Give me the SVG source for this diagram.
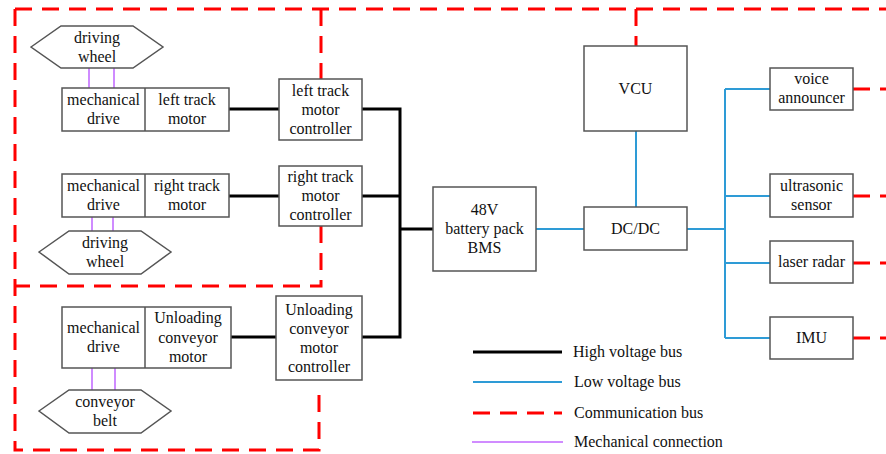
<svg xmlns="http://www.w3.org/2000/svg" width="886" height="454" viewBox="0 0 886 454">
<style>
.box{fill:#fff;stroke:#555;stroke-width:1.5}
.t{font-family:'Liberation Serif','Times New Roman','DejaVu Serif',serif;font-size:16px;fill:#111;text-anchor:middle}
.tl{font-family:'Liberation Serif','Times New Roman','DejaVu Serif',serif;font-size:16px;fill:#111}
.hv{stroke:#000;stroke-width:3;fill:none}
.lv{stroke:#2e9bd6;stroke-width:2;fill:none}
.cb{stroke:#ff0000;stroke-width:3;fill:none;stroke-dasharray:17 10}
.mc{stroke:#c066ff;stroke-width:1.5;fill:none}
</style>
<rect width="886" height="454" fill="#fff"/>
<g id="connectors">
  <path class="cb" d="M15 9 H886"/>
  <path class="cb" d="M15 9 V450 H319 V388"/>
  <path class="cb" d="M321 9 V79"/>
  <path class="cb" d="M321 226 V286 H15"/>
  <path class="cb" d="M636 9 V46"/>
  <path class="cb" d="M853 89 H886"/>
  <path class="cb" d="M853 196 H886"/>
  <path class="cb" d="M853 263 H886"/>
  <path class="cb" d="M853 338 H886"/>
  <path class="hv" d="M229 109 H279"/>
  <path class="hv" d="M229 196 H279"/>
  <path class="hv" d="M231 337 H276"/>
  <path class="hv" d="M362 109 H400 V337 H362"/>
  <path class="hv" d="M362 196 H400"/>
  <path class="hv" d="M400 229 H433"/>
  <path class="lv" d="M536 229 H584"/>
  <path class="lv" d="M636 131 V207"/>
  <path class="lv" d="M687 229 H725"/>
  <path class="lv" d="M725 89 V338"/>
  <path class="lv" d="M725 89 H770 M725 196 H770 M725 263 H770 M725 338 H770"/>
  <path class="mc" d="M89 68 V88 M114 68 V88"/>
  <path class="mc" d="M92 217 V231 M113 217 V231"/>
  <path class="mc" d="M92 368 V390 M115 368 V390"/>
</g>
<g id="wheel-left">
  <polygon class="box" points="31,47 61,26 133,26 163,47 133,68 61,68"/>
  <text class="t" x="97" y="43">driving</text>
  <text class="t" x="97" y="62">wheel</text>
</g>
<g id="left-drive">
  <rect class="box" x="62" y="88" width="167" height="43"/>
  <line class="box" x1="145" y1="88" x2="145" y2="131"/>
  <text class="t" x="103.5" y="105">mechanical</text>
  <text class="t" x="103.5" y="124">drive</text>
  <text class="t" x="187" y="105">left track</text>
  <text class="t" x="187" y="124">motor</text>
</g>
<g id="left-controller">
  <rect class="box" x="279" y="79" width="83" height="61"/>
  <text class="t" x="320.5" y="96">left track</text>
  <text class="t" x="320.5" y="115">motor</text>
  <text class="t" x="320.5" y="134">controller</text>
</g>
<g id="right-drive">
  <rect class="box" x="62" y="174" width="167" height="43"/>
  <line class="box" x1="145" y1="174" x2="145" y2="217"/>
  <text class="t" x="103.5" y="191">mechanical</text>
  <text class="t" x="103.5" y="210">drive</text>
  <text class="t" x="187" y="191">right track</text>
  <text class="t" x="187" y="210">motor</text>
</g>
<g id="wheel-right">
  <polygon class="box" points="39,252 69,231 141,231 171,252 141,274 69,274"/>
  <text class="t" x="105" y="248">driving</text>
  <text class="t" x="105" y="267">wheel</text>
</g>
<g id="right-controller">
  <rect class="box" x="279" y="166" width="83" height="60"/>
  <text class="t" x="320.5" y="182">right track</text>
  <text class="t" x="320.5" y="201">motor</text>
  <text class="t" x="320.5" y="220">controller</text>
</g>
<g id="conveyor-drive">
  <rect class="box" x="62" y="307" width="169" height="61"/>
  <line class="box" x1="145" y1="307" x2="145" y2="368"/>
  <text class="t" x="103.5" y="333">mechanical</text>
  <text class="t" x="103.5" y="352">drive</text>
  <text class="t" x="188" y="323">Unloading</text>
  <text class="t" x="188" y="343">conveyor</text>
  <text class="t" x="188" y="362">motor</text>
</g>
<g id="conveyor-belt">
  <polygon class="box" points="39,411 69,390 141,390 171,411 141,433 69,433"/>
  <text class="t" x="105" y="407">conveyor</text>
  <text class="t" x="105" y="426">belt</text>
</g>
<g id="conveyor-controller">
  <rect class="box" x="276" y="296" width="86" height="84"/>
  <text class="t" x="319" y="315">Unloading</text>
  <text class="t" x="319" y="334">conveyor</text>
  <text class="t" x="319" y="353">motor</text>
  <text class="t" x="319" y="372">controller</text>
</g>
<g id="battery">
  <rect class="box" x="433" y="187" width="103" height="84"/>
  <text class="t" x="484.5" y="215">48V</text>
  <text class="t" x="484.5" y="234">battery pack</text>
  <text class="t" x="484.5" y="253">BMS</text>
</g>
<g id="vcu">
  <rect class="box" x="584" y="46" width="103" height="85"/>
  <text class="t" x="635.5" y="94">VCU</text>
</g>
<g id="dcdc">
  <rect class="box" x="584" y="207" width="103" height="43"/>
  <text class="t" x="635.5" y="234">DC/DC</text>
</g>
<g id="voice">
  <rect class="box" x="770" y="68" width="83" height="42"/>
  <text class="t" x="811.5" y="84">voice</text>
  <text class="t" x="811.5" y="103">announcer</text>
</g>
<g id="ultrasonic">
  <rect class="box" x="770" y="174" width="83" height="43"/>
  <text class="t" x="811.5" y="191">ultrasonic</text>
  <text class="t" x="811.5" y="210">sensor</text>
</g>
<g id="laser">
  <rect class="box" x="770" y="241" width="83" height="42"/>
  <text class="t" x="811.5" y="267">laser radar</text>
</g>
<g id="imu">
  <rect class="box" x="770" y="317" width="83" height="42"/>
  <text class="t" x="811.5" y="343">IMU</text>
</g>
<g id="legend">
  <line class="hv" x1="473" y1="352" x2="562" y2="352"/>
  <line class="lv" x1="473" y1="382" x2="562" y2="382"/>
  <line class="cb" x1="473" y1="413" x2="562" y2="413" stroke-dasharray="14 11"/>
  <line class="mc" x1="472" y1="442" x2="563" y2="442"/>
  <text class="tl" x="573" y="357">High voltage bus</text>
  <text class="tl" x="574" y="387">Low voltage bus</text>
  <text class="tl" x="574" y="418">Communication bus</text>
  <text class="tl" x="574" y="447">Mechanical connection</text>
</g>
</svg>
